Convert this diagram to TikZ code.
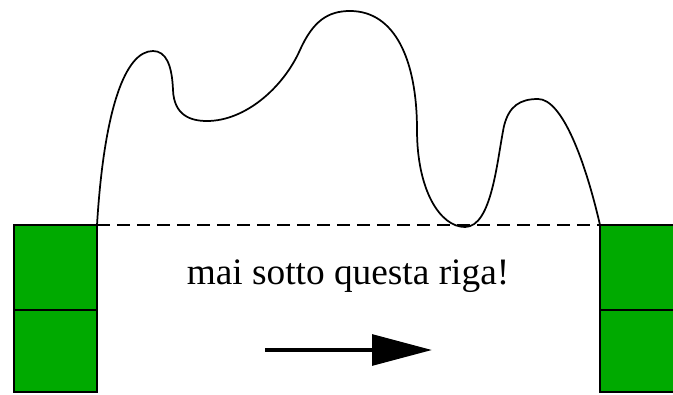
\documentclass[tikz,border=0pt]{standalone}
\usepackage{fontspec}
\setmainfont{Liberation Serif}
\usetikzlibrary{arrows.meta}
\definecolor{blockgreen}{RGB}{0,170,0}
\definecolor{edgeblack}{RGB}{0,0,0}

\begin{document}
\begin{tikzpicture}[x=0.75pt,y=-0.75pt,>=Stealth]
  % Viewport 673x395 (pixel units, y downward)
  \useasboundingbox (0,0) rectangle (673,395);
  \clip (0,0) rectangle (673,395);

  % --- Green blocks (left and right) ---
  \foreach \x/\w in {14/83,600/90} {
    \fill[blockgreen] (\x,225) rectangle (\x+\w,392);
    \draw[edgeblack,line width=1pt] (\x,225) rectangle (\x+\w,392);
    \draw[edgeblack,line width=1pt] (\x,310) -- (\x+\w,310);
  }

  % Ends of the wavy line
  \coordinate (L) at (97,225);
  \coordinate (R) at (600,225);

  % --- Dashed limit line ---
  \draw[edgeblack,line width=1pt,dash pattern=on 10pt off 5pt] (L) -- (R);

  % --- Wavy profile above the line ---
  \draw[edgeblack,line width=1.3pt]
    (L) .. controls (104,110) and (125,51) .. (153,51)    % first bump
        .. controls (166,51) and (172,65) .. (173,90)
        .. controls (174,115) and (190,121) .. (207,121)  % hollow
        .. controls (245,121) and (283,88) .. (300,50)
        .. controls (313,21) and (328,11) .. (350,11)     % highest bump
        .. controls (395,11) and (417,60) .. (417,130)
        .. controls (417,190) and (440,227) .. (465,227)  % touches the line
        .. controls (492,227) and (497,160) .. (504,126)
        .. controls (509,106) and (520,99) .. (538,99)    % last bump
        .. controls (562,99) and (585,160) .. (R);

  % --- Label ---
  \node[font=\fontsize{28}{34}\selectfont] (msg) at (348,276) {mai sotto questa riga!};

  % --- Direction arrow ---
  \coordinate (A0) at (265,350);
  \coordinate (A1) at (432,350);
  \draw[edgeblack,line width=3pt,-{Triangle[length=45pt,width=23pt]}] (A0) -- (A1);

\end{tikzpicture}
\end{document}
